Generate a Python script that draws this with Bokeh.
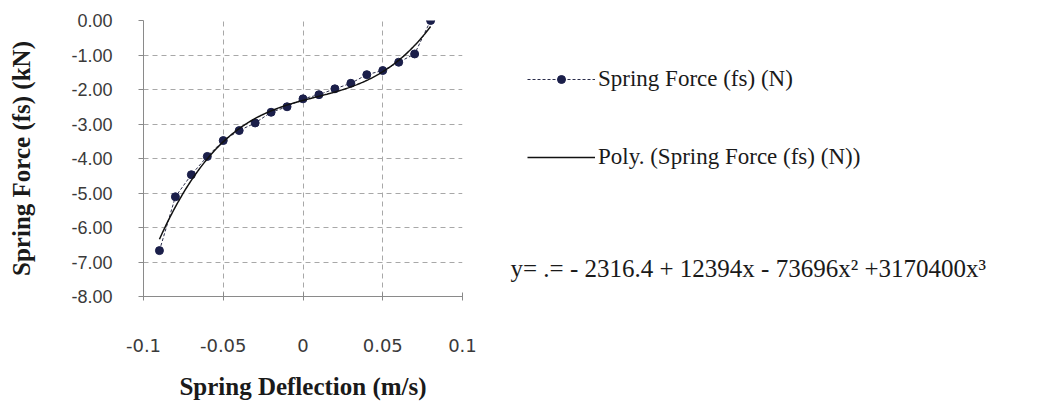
from bokeh.plotting import figure
from bokeh.layouts import row
from bokeh.models import (Range1d, FixedTicker, NumeralTickFormatter, Legend, LegendItem, Label)
from bokeh.embed import file_html
from bokeh.resources import INLINE
import numpy as np

# ---- data ----
deflection = [-0.09, -0.08, -0.07, -0.06, -0.05, -0.04, -0.03, -0.02, -0.01, 0.0,
              0.01, 0.02, 0.03, 0.04, 0.05, 0.06, 0.07, 0.08]
force_kN = [-6.67, -5.11, -4.47, -3.94, -3.48, -3.19, -2.97, -2.66, -2.50, -2.27,
            -2.15, -1.98, -1.82, -1.57, -1.45, -1.21, -0.97, 0.00]
# trendline coefficients shown on the chart (N), highest power first
poly_coeffs_N = [3170400.0, -73696.0, 12394.0, -2316.4]
x_ticks = [-0.1, -0.05, 0.0, 0.05, 0.1]
x_tick_labels = ["-0.1", "-0.05", "0", "0.05", "0.1"]
y_ticks = [0, -1, -2, -3, -4, -5, -6, -7, -8]
series_name = "Spring Force (fs) (N)"
trend_name = "Poly. (Spring Force (fs) (N))"
equation = "y= .= - 2316.4 + 12394x - 73696x\u00b2 +3170400x\u00b3"

W, H = 1041, 403
W1 = 480
FRAME_BOTTOM = 296
p = figure(width=W1, height=H, output_backend="svg", toolbar_location=None,
           x_range=Range1d(-0.1, 0.1), y_range=Range1d(-8, 0),
           min_border_left=143, min_border_right=W1 - 462,
           min_border_top=20, min_border_bottom=H - FRAME_BOTTOM)
p.outline_line_color = None

SERIES_COLOR = "#2b2d4a"
MARK_COLOR = "#1b1f4a"
TREND_COLOR = "#111111"

# grid
for g in (p.xgrid, p.ygrid):
    g.grid_line_color = "#a8a8a8"
    g.grid_line_dash = "5 4"
    g.grid_line_width = 1
p.xgrid.ticker = FixedTicker(ticks=x_ticks)
p.ygrid.ticker = FixedTicker(ticks=y_ticks)

# axes
xa = p.xaxis[0]
xa.ticker = FixedTicker(ticks=x_ticks)
xa.major_label_overrides = {t: l for t, l in zip(x_ticks, x_tick_labels)}
xa.axis_label = "Spring Deflection (m/s)"
ya = p.yaxis[0]
ya.ticker = FixedTicker(ticks=y_ticks)
ya.formatter = NumeralTickFormatter(format="0.00")
ya.axis_label = "Spring Force (fs) (kN)"
for a in (xa, ya):
    a.axis_line_color = "#8a8a8a"
    a.major_tick_line_color = "#8a8a8a"
    a.minor_tick_line_color = None
    a.major_label_text_color = "#3a3a3a"
    a.major_label_text_font_size = "18px"
    a.axis_label_text_font = "Liberation Serif"
    a.axis_label_text_font_style = "bold"
    a.axis_label_text_font_size = "25px"
    a.axis_label_text_color = "#1a1a1a"
xa.major_label_text_font = "DejaVu Sans"
ya.major_label_text_font = "Liberation Sans"
xa.major_tick_in = 4
xa.major_tick_out = 4
ya.major_tick_in = 0
ya.major_tick_out = 5
xa.major_label_standoff = 38
ya.major_label_standoff = 26
xa.axis_label_standoff = 18
ya.axis_label_standoff = 33

# series
p.line(deflection, force_kN, line_color=SERIES_COLOR, line_dash="3 2", line_width=1)
p.scatter(deflection, force_kN, marker="circle", size=8,
          fill_color=MARK_COLOR, line_color=MARK_COLOR)
xs = np.linspace(min(deflection), max(deflection), 200)
ys = np.polyval(poly_coeffs_N, xs) / 1000.0
p.line(xs, ys, line_color=TREND_COLOR, line_width=1.5)

# ---- side panel with legend and equation ----
W2 = W - W1
p2 = figure(width=W2, height=H, output_backend="svg", toolbar_location=None,
            x_range=Range1d(10, 11), y_range=Range1d(10, 11),
            min_border=0, x_axis_type=None, y_axis_type=None)
p2.outline_line_color = None
p2.xgrid.visible = False
p2.ygrid.visible = False
# legend proxies (same data, lying outside this panel's view)
lr1 = p2.line(deflection, force_kN, line_color=SERIES_COLOR, line_dash="3 2", line_width=1)
lr2 = p2.scatter(deflection, force_kN, marker="circle", size=7, fill_color=MARK_COLOR, line_color=MARK_COLOR)
lr3 = p2.line(xs, ys, line_color=TREND_COLOR, line_width=1.5)

legend = Legend(items=[LegendItem(label=series_name, renderers=[lr1, lr2]),
                       LegendItem(label=trend_name, renderers=[lr3])],
                location=(527 - W1, 126), orientation="vertical",
                glyph_width=68, glyph_height=20, label_height=20,
                label_standoff=3, spacing=52, padding=0, margin=0,
                border_line_color=None, background_fill_alpha=0,
                label_text_font="Liberation Serif", label_text_font_size="23px",
                label_text_color="#1a1a1a")
p2.add_layout(legend, "center")

eq = Label(x=510 - W1, y=FRAME_BOTTOM - 268, x_units="screen", y_units="screen", text=equation,
           text_font="Liberation Serif", text_font_size="25px", text_color="#1a1a1a",
           text_baseline="middle")
p2.add_layout(eq)

layout = row(p, p2)
open("out.html", "w").write(file_html(layout, INLINE))
